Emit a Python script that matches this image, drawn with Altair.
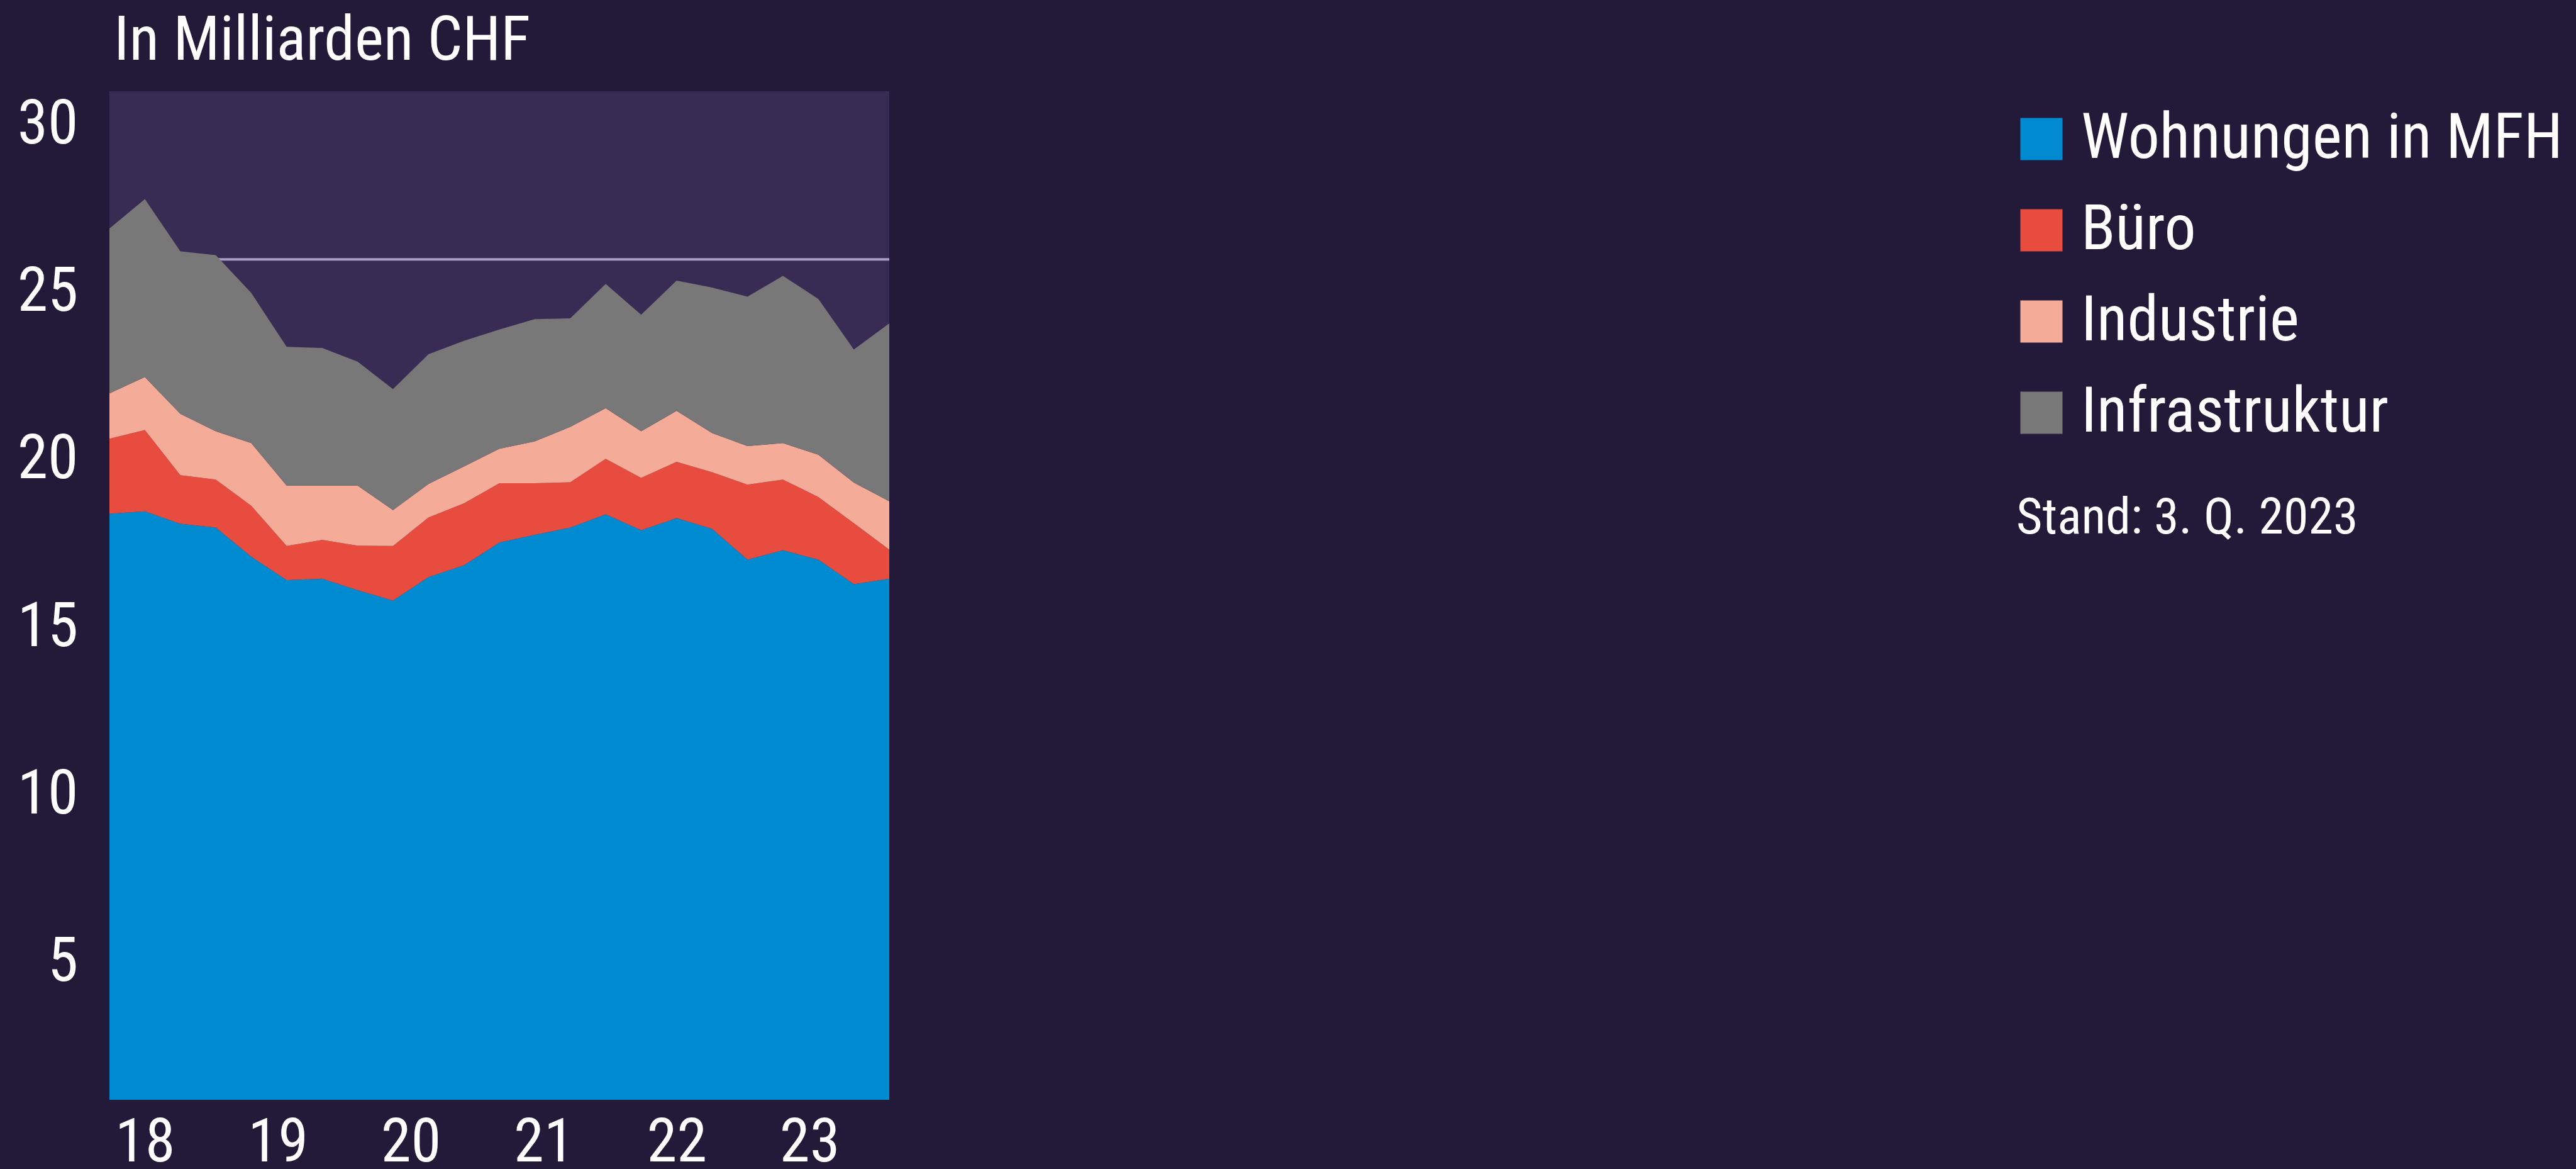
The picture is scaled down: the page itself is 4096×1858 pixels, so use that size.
import altair as alt
import pandas as pd

# Quarterly values, 2018 Q1 to 2023 Q3, in billions of CHF
QUARTERS = [
    "2018 Q1", "2018 Q2", "2018 Q3", "2018 Q4",
    "2019 Q1", "2019 Q2", "2019 Q3", "2019 Q4",
    "2020 Q1", "2020 Q2", "2020 Q3", "2020 Q4",
    "2021 Q1", "2021 Q2", "2021 Q3", "2021 Q4",
    "2022 Q1", "2022 Q2", "2022 Q3", "2022 Q4",
    "2023 Q1", "2023 Q2", "2023 Q3",
]
WOHNUNGEN = [17.49, 17.56, 17.19, 17.08, 16.21, 15.51, 15.55, 15.21, 14.90, 15.60, 15.95, 16.63,
             16.86, 17.08, 17.47, 17.00, 17.36, 17.04, 16.12, 16.40, 16.12, 15.39, 15.55]
BUERO = [2.24, 2.43, 1.45, 1.43, 1.52, 1.02, 1.16, 1.33, 1.63, 1.78, 1.85, 1.77,
         1.54, 1.35, 1.66, 1.56, 1.68, 1.69, 2.24, 2.11, 1.87, 1.82, 0.87]
INDUSTRIE = [1.35, 1.58, 1.83, 1.44, 1.87, 1.80, 1.62, 1.79, 1.07, 1.00, 1.10, 1.03,
             1.25, 1.65, 1.51, 1.39, 1.52, 1.17, 1.15, 1.09, 1.26, 1.21, 1.44]
INFRASTRUKTUR = [4.92, 5.31, 4.85, 5.26, 4.48, 4.14, 4.11, 3.70, 3.61, 3.87, 3.75, 3.56,
                 3.65, 3.24, 3.71, 3.48, 3.89, 4.34, 4.46, 4.99, 4.65, 3.97, 5.31]

SERIES = ["Wohnungen in MFH", "Büro", "Industrie", "Infrastruktur"]
COLORS = ["#008bd0", "#e74c3e", "#f4ab97", "#787878"]

REF_LINE = [25.08]

Y_TICKS = [5, 10, 15, 20, 25, 30]
YEAR_LABELS = ["18", "19", "20", "21", "22", "23"]
YEAR_TICKS = [1, 4.75, 8.5, 12.25, 16, 19.75]   # positions on the quarter index

TITLE = "In Milliarden CHF"
NOTE = "Stand: 3. Q. 2023"

FONT = "Roboto Condensed, Liberation Sans Narrow, DejaVu Sans Condensed, sans-serif"
PAGE_BG = "#221a38"
PLOT_BG = "#382c55"
WHITE = "#ffffff"

# long table for the stacked areas
rows = []
for rank, (name, values) in enumerate(zip(SERIES, [WOHNUNGEN, BUERO, INDUSTRIE, INFRASTRUKTUR])):
    for i, (q, v) in enumerate(zip(QUARTERS, values)):
        rows.append({"idx": i, "quarter": q, "series": name, "value": v, "rank": rank})
df = pd.DataFrame(rows)

label_expr = " : ".join(
    f"datum.value == {t} ? '{lab}'" for t, lab in zip(YEAR_TICKS, YEAR_LABELS)
) + " : ''"

x_scale = alt.Scale(domain=[0, len(QUARTERS) - 1], nice=False, zero=False)
y_scale = alt.Scale(domain=[0, 30.1], nice=False)

x_axis = alt.Axis(
    values=YEAR_TICKS, labelExpr=label_expr, title=None, domain=False, ticks=False, grid=False,
    labelFont=FONT, labelFontSize=97, labelColor=WHITE, labelPadding=20,
    labelFlush=False, labelOverlap=False,
)
y_axis = alt.Axis(
    values=Y_TICKS, title=None, domain=False, ticks=False, grid=False,
    labelFont=FONT, labelFontSize=98, labelColor=WHITE, labelPadding=50,
    labelBaseline="top", labelAlign="right", labelOverlap=False, labelFlush=False,
)

ref = alt.Chart(pd.DataFrame({"ref": REF_LINE})).mark_rule(
    color="#a99bc4", strokeWidth=4
).encode(
    y=alt.Y("ref:Q", scale=y_scale, axis=y_axis)
)

areas = alt.Chart(df).mark_area(interpolate="linear").encode(
    x=alt.X("idx:Q", scale=x_scale, axis=x_axis),
    y=alt.Y("value:Q", stack="zero", scale=y_scale, axis=y_axis),
    color=alt.Color(
        "series:N",
        scale=alt.Scale(domain=SERIES, range=COLORS),
        legend=alt.Legend(
            title=None, orient="none", legendX=3022, legendY=26,
            symbolType="square", symbolSize=4489, symbolStrokeWidth=0, symbolOpacity=1,
            labelFont=FONT, labelFontSize=100, labelColor=WHITE, labelOffset=13,
            labelLimit=2000, rowPadding=45, padding=0,
        ),
    ),
    order=alt.Order("rank:Q", sort="ascending"),
)

# unit caption above the plot and the date note under the legend
caption = alt.Chart(pd.DataFrame({"caption": [TITLE]})).mark_text(
    align="left", baseline="alphabetic", font=FONT, fontSize=98, color=WHITE
).encode(
    text="caption:N", x=alt.value(7), y=alt.value(-50)
)

note = alt.Chart(pd.DataFrame({"note": [NOTE]})).mark_text(
    align="left", baseline="alphabetic", font=FONT, fontSize=80, color=WHITE
).encode(
    text="note:N", x=alt.value(3032), y=alt.value(703)
)

chart = alt.layer(ref, areas, caption, note).properties(
    width=1240,
    height=1603,
    padding={"left": 174, "top": 145, "right": 2682, "bottom": 110},
    autosize=alt.AutoSizeParams(type="none"),
    background=PAGE_BG,
).configure_view(fill=PLOT_BG, strokeWidth=0)

chart.save("out.html", embed_options={"renderer": "svg", "actions": False})
